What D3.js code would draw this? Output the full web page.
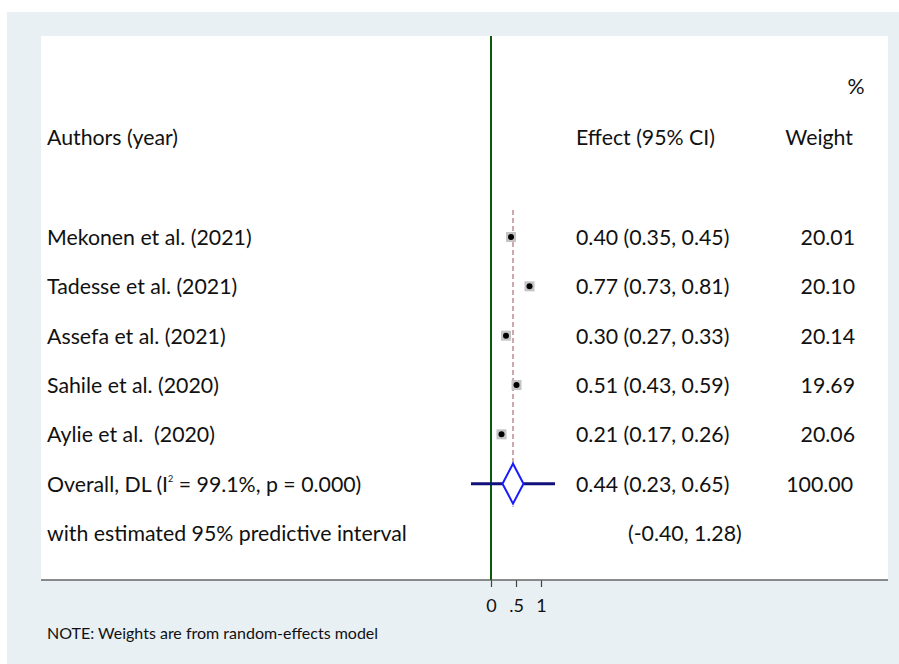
<!DOCTYPE html>
<html><head><meta charset="utf-8">
<script src="https://cdn.jsdelivr.net/npm/d3@7"></script>
<style>body{margin:0;background:#fff}svg{display:block}text{font-family:Lato,"Open Sans",sans-serif;fill:#111;white-space:pre}</style>
</head><body><svg id="c" width="899" height="664"></svg>
<script>
const studies = ["Mekonen et al. (2021)","Tadesse et al. (2021)","Assefa et al. (2021)","Sahile et al. (2020)","Aylie et al.  (2020)"];
const effects = [0.40,0.77,0.30,0.51,0.21];
const lower = [0.35,0.73,0.27,0.43,0.17];
const upper = [0.45,0.81,0.33,0.59,0.26];
const weights = [20.01,20.10,20.14,19.69,20.06];
const overall = {es:0.44, lo:0.23, hi:0.65, w:100.00};
const predictive = {lo:-0.40, hi:1.28};
const xTicks = [0,0.5,1];
const xTickLabels = ["0",".5","1"];

const svg = d3.select("#c");
svg.append("rect").attr("x",7).attr("y",12).attr("width",892).attr("height",652).attr("fill","#e8f0f3");
svg.append("rect").attr("x",41).attr("y",36).attr("width",847).attr("height",544).attr("fill","#fff");

const x = d3.scaleLinear().domain([0,1]).range([491,541]);
const y = d3.scaleLinear().domain([0,6]).range([237,533]);

// axis
const ax = svg.append("g").attr("transform","translate(0,580)")
  .call(d3.axisBottom(x).tickValues(xTicks).tickFormat((d,i)=>xTickLabels[i]).tickSize(7).tickPadding(12));
ax.select(".domain").remove();
ax.selectAll(".tick line").attr("stroke","#444").attr("stroke-width",1.2);
ax.selectAll(".tick text").style("font-size","18px").attr("fill","#111").style("font-family","Lato,sans-serif");
svg.append("line").attr("x1",41).attr("x2",888).attr("y1",580).attr("y2",580).attr("stroke","#666").attr("stroke-width",1.6);

// null line
svg.append("line").attr("x1",x(0)).attr("x2",x(0)).attr("y1",36).attr("y2",580).attr("stroke","#0b5a0b").attr("stroke-width",2);
// overall dashed
svg.append("line").attr("x1",x(overall.es)).attr("x2",x(overall.es)).attr("y1",y(0)-27).attr("y2",y(5)+23)
  .attr("stroke","#b07a80").attr("stroke-width",1.3).attr("stroke-dasharray","5,3");

// studies
const g = svg.append("g");
studies.forEach((s,i)=>{
  g.append("line").attr("x1",x(lower[i])).attr("x2",x(upper[i])).attr("y1",y(i)).attr("y2",y(i)).attr("stroke","#222").attr("stroke-width",1.2);
  g.append("rect").attr("x",x(effects[i])-5).attr("y",y(i)-5).attr("width",10).attr("height",10).attr("fill","#c4c4c4");
  g.append("circle").attr("cx",x(effects[i])).attr("cy",y(i)).attr("r",3).attr("fill","#000");
});

// predictive interval + diamond
svg.append("line").attr("x1",x(predictive.lo)).attr("x2",x(predictive.hi)).attr("y1",y(5)).attr("y2",y(5)).attr("stroke","#10107a").attr("stroke-width",3);
const dh = 20;
svg.append("path").attr("d",`M${x(overall.lo)},${y(5)}L${x(overall.es)},${y(5)-dh}L${x(overall.hi)},${y(5)}L${x(overall.es)},${y(5)+dh}Z`)
  .attr("fill","#fff").attr("stroke","#1a1aff").attr("stroke-width",2);

const fs = "21.3px";
function txt(t,xx,yy,anchor){return svg.append("text").attr("x",xx).attr("y",yy).attr("text-anchor",anchor||"start").style("font-size",fs).text(t);}
const f2 = v => d3.format(".2f")(v).replace("−","-");
// header
txt("%",856,94,"middle");
txt("Authors (year)",47,145);
txt("Effect (95% CI)",576,145);
txt("Weight",853,145,"end");
studies.forEach((s,i)=>{
  txt(s,47,y(i)+8);
  txt(`${f2(effects[i])} (${f2(lower[i])}, ${f2(upper[i])})`,576,y(i)+8);
  txt(f2(weights[i]),855,y(i)+8,"end");
});
const ov = svg.append("text").attr("x",47).attr("y",y(5)+8).style("font-size",fs);
ov.append("tspan").text("Overall, DL (I");
ov.append("tspan").attr("dy",-10).style("font-size","9px").text("2");
ov.append("tspan").attr("dy",10).text(" = 99.1%, p = 0.000)");
txt(`${f2(overall.es)} (${f2(overall.lo)}, ${f2(overall.hi)})`,576,y(5)+8);
txt(f2(overall.w),853,y(5)+8,"end");
txt("with estimated 95% predictive interval",47,y(6)+8);
txt(`(${f2(predictive.lo)}, ${f2(predictive.hi)})`,628,y(6)+8);
svg.append("text").attr("x",47).attr("y",639).style("font-size","16px").text("NOTE: Weights are from random-effects model");
</script></body></html>
